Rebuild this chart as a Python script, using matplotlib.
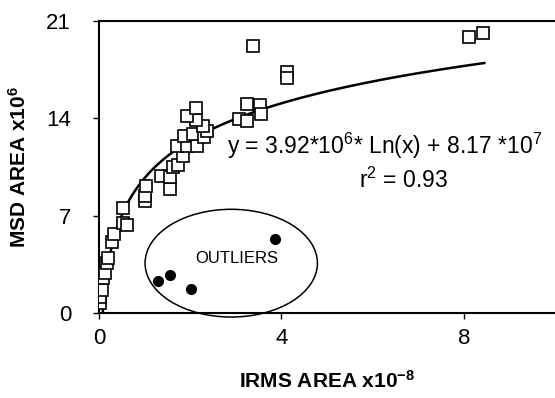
import matplotlib
matplotlib.use('Agg')
import matplotlib.pyplot as plt
import numpy as np
from matplotlib.patches import Ellipse

plt.rcParams['font.family'] = ['Liberation Sans', 'DejaVu Sans']
plt.rcParams['mathtext.fontset'] = 'custom'
plt.rcParams['mathtext.rm'] = 'Liberation Sans'
plt.rcParams['mathtext.bf'] = 'Liberation Sans:bold'
plt.rcParams['mathtext.it'] = 'Liberation Sans:italic'

# IRMS area (x1e-8) vs MSD area (x1e6), hollow squares
sq_x = [0.02, 0.02, 0.06, 0.09, 0.13, 0.17, 0.20, 0.28, 0.33, 0.52, 0.61, 0.53,
        1.01, 1.01, 1.03, 1.55, 1.36, 1.56, 1.63, 1.74, 1.85, 1.72, 1.93, 2.15,
        1.87, 2.07, 2.31, 2.37, 2.29, 2.13, 1.94, 2.13,
        3.06, 3.25, 3.25, 3.52, 3.55, 3.38, 4.12, 4.12, 8.12, 8.43]
sq_y = [0.69, 1.17, 1.65, 2.49, 2.84, 3.56, 3.92, 5.10, 5.71, 6.47, 6.30, 7.57,
        8.05, 8.40, 9.10, 8.90, 9.81, 9.76, 10.50, 10.60, 11.30, 12.03, 12.03, 12.03,
        12.70, 12.87, 12.63, 13.10, 13.45, 13.87, 14.18, 14.73,
        13.95, 13.80, 15.00, 14.95, 14.30, 19.20, 17.30, 16.90, 19.84, 20.15]

# outliers, filled circles
out_x = [1.30, 1.56, 2.02, 3.85]
out_y = [2.32, 2.73, 1.73, 5.32]

# log trendline as drawn
fit_a, fit_b = 3.87, 9.70
fit_lo, fit_hi = 0.082, 8.45

fig = plt.figure(figsize=(5.55, 3.98), dpi=100)
ax = fig.add_axes([0.1784, 0.2136, 0.8216, 0.7344])

xs = np.linspace(fit_lo, fit_hi, 300)
ax.plot(xs, fit_a*np.log(xs) + fit_b, color='k', lw=1.8, zorder=2)
ax.plot(sq_x, sq_y, 's', ms=8, mfc='white', mec='k', mew=1.2, zorder=3)
ax.plot(out_x, out_y, 'o', ms=7, color='k', zorder=3)

ax.add_patch(Ellipse((2.9, 3.58), 3.78, 7.74, fill=False, lw=1.1, ec='k', clip_on=False))
ax.text(3.01, 3.94, 'OUTLIERS', fontsize=12, ha='center', va='center')
ax.text(2.81, 12.03, r'y = 3.92*10$^{6}$* Ln(x) + 8.17 *10$^{7}$', fontsize=16.5,
        ha='left', va='center')
ax.text(6.68, 9.53, r'r$^{2}$ = 0.93', fontsize=16.5, ha='center', va='center')

ax.set_xlim(0, 10)
ax.set_ylim(0, 21)
ax.set_xticks([0, 4, 8])
ax.set_yticks([0, 7, 14, 21])
ax.tick_params(direction='out', length=4, width=1, labelsize=16)
ax.tick_params(axis='x', pad=7)
ax.tick_params(axis='y', pad=16)
ax.spines['right'].set_visible(False)
for s in ['left', 'top', 'bottom']:
    ax.spines[s].set_linewidth(1.5)

ax.set_xlabel(r'IRMS AREA x10$^{\mathbf{-8}}$', fontsize=15, fontweight='bold', labelpad=15)
ax.set_ylabel(r'MSD AREA x10$^{\mathbf{6}}$', fontsize=15, fontweight='bold', labelpad=12)

fig.savefig('out.png', dpi=100)
